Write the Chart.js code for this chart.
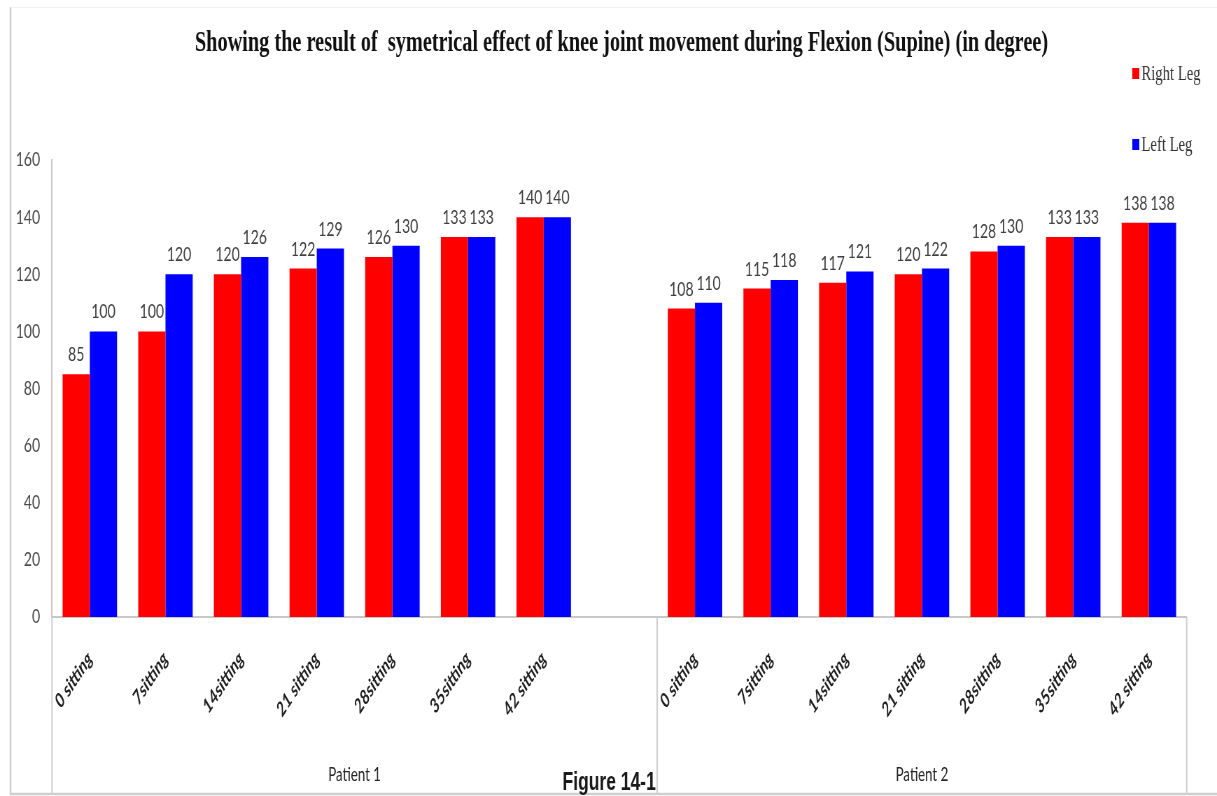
<!DOCTYPE html>
<html>
<head>
<meta charset="utf-8">
<script src="https://cdn.jsdelivr.net/npm/chart.js@4.4.1/dist/chart.umd.min.js"></script>
<style>
  html, body { margin: 0; padding: 0; background: #fff; overflow: hidden; }
  #stage { position: absolute; left: 0; top: 0; width: 1217px; height: 796px; overflow: hidden; background: #fff; }
  /* the drawing is laid out on a wider canvas and narrowed to the page width */
  #chart { position: absolute; left: 0; top: 0; transform: scaleX(0.69983); transform-origin: 0 0; }
</style>
</head>
<body>
<div id="stage"><canvas id="chart" width="1739" height="796"></canvas></div>
<script>
// ---- data ----
const chartTitle = 'Showing the result of  symetrical effect of knee joint movement during Flexion (Supine) (in degree)';
const figureCaption = 'Figure 14-1';

const categories = [
  '0 sitting', '7sitting', '14sitting', '21 sitting', '28sitting', '35sitting', '42 sitting', '',
  '0 sitting', '7sitting', '14sitting', '21 sitting', '28sitting', '35sitting', '42 sitting'
];
const patientGroups = ['Patient 1', 'Patient 2'];
const groupSpans = [8, 7];

const seriesNames = ['Right Leg', 'Left Leg'];
const seriesColors = ['#ff0000', '#0000ff'];
const rightLeg = [85, 100, 120, 122, 126, 133, 140, null, 108, 115, 117, 120, 128, 133, 138];
const leftLeg  = [100, 120, 126, 129, 130, 133, 140, null, 110, 118, 121, 122, 130, 133, 138];

const yMin = 0, yMax = 160, yStep = 20;

// ---- extra drawing: title, legend, value labels, patient group boxes, frame ----
const decor = {
  id: 'decor',
  beforeDraw(chart) {
    const { ctx, width, height } = chart;
    ctx.save();
    ctx.fillStyle = '#ffffff';
    ctx.fillRect(0, 0, width, height);
    // outer frame
    ctx.strokeStyle = '#cfcfcf';
    ctx.lineWidth = 2.5;
    ctx.beginPath();
    ctx.moveTo(15, 7); ctx.lineTo(15, 794); ctx.lineTo(width, 794);
    ctx.stroke();
    ctx.strokeStyle = '#f0f0f0';
    ctx.lineWidth = 1;
    ctx.beginPath();
    ctx.moveTo(15, 7.5); ctx.lineTo(width, 7.5);
    ctx.stroke();
    ctx.restore();
  },
  afterDraw(chart) {
    const { ctx, chartArea, scales } = chart;
    const x = scales.x;
    ctx.save();

    // title
    ctx.fillStyle = '#111111';
    ctx.font = 'bold 29px "Liberation Serif", "DejaVu Serif", serif';
    ctx.textAlign = 'center';
    ctx.textBaseline = 'alphabetic';
    ctx.fillText(chartTitle, (chartArea.left + chartArea.right) / 2 + 3, 51);

    // legend (stacked vertically, top right)
    ctx.font = '21px "Liberation Serif", "DejaVu Serif", serif';
    ctx.textAlign = 'left';
    chart.data.datasets.forEach((ds, i) => {
      const cy = 73 + i * 71;
      ctx.fillStyle = ds.backgroundColor;
      ctx.fillRect(1618, cy - 5, 10, 11);
      ctx.fillStyle = '#333333';
      ctx.textBaseline = 'middle';
      ctx.fillText(ds.label, 1631, cy + 1);
    });

    // value labels above the bars
    ctx.font = '20px Lato, "Open Sans", sans-serif';
    ctx.fillStyle = '#404040';
    ctx.textAlign = 'center';
    ctx.textBaseline = 'alphabetic';
    chart.data.datasets.forEach((ds, i) => {
      const meta = chart.getDatasetMeta(i);
      meta.data.forEach((bar, j) => {
        const v = ds.data[j];
        if (v === null || v === undefined) return;
        ctx.fillText(String(v), bar.x, bar.y - 13);
      });
    });

    // patient group boxes under the category labels
    const n = chart.data.labels.length;
    const cat = (x.right - x.left) / n;
    const boxBottom = 794;
    ctx.strokeStyle = '#cfcfcf';
    ctx.lineWidth = 2;
    let start = 0;
    const edges = [x.left];
    patientGroups.forEach((g, gi) => {
      const end = start + groupSpans[gi];
      edges.push(x.left + end * cat);
      ctx.fillStyle = '#262626';
      ctx.font = '19px Lato, "Open Sans", sans-serif';
      ctx.textAlign = 'center';
      ctx.fillText(g, x.left + (start + end) / 2 * cat, 781);
      start = end;
    });
    ctx.beginPath();
    edges.forEach(ex => { ctx.moveTo(ex, chartArea.bottom); ctx.lineTo(ex, boxBottom); });
    ctx.stroke();

    // figure caption next to the group divider
    ctx.fillStyle = '#1a1a1a';
    ctx.font = 'bold 25px "Liberation Sans", Arial, sans-serif';
    ctx.textAlign = 'right';
    ctx.fillText(figureCaption, edges[1] - 2, 790);

    ctx.restore();
  }
};

new Chart(document.getElementById('chart'), {
  type: 'bar',
  data: {
    labels: categories,
    datasets: [
      { label: seriesNames[0], data: rightLeg, backgroundColor: seriesColors[0] },
      { label: seriesNames[1], data: leftLeg, backgroundColor: seriesColors[1] }
    ]
  },
  options: {
    responsive: false,
    animation: false,
    devicePixelRatio: 1,
    layout: { padding: { left: 0, right: 43.3, top: 160, bottom: 9 } },
    datasets: { bar: { categoryPercentage: 0.72, barPercentage: 1.0 } },
    plugins: { legend: { display: false }, title: { display: false }, tooltip: { enabled: false } },
    scales: {
      x: {
        grid: { display: false, drawTicks: false },
        border: { display: true, color: '#c8c8c8', width: 2 },
        ticks: {
          autoSkip: false,
          minRotation: 47,
          maxRotation: 47,
          padding: 30,
          color: '#1f1f1f',
          font: { family: 'Lato, "Open Sans", sans-serif', size: 20, weight: 'bold', style: 'italic' }
        },
        afterFit(scale) { scale.height = 170; }
      },
      y: {
        min: yMin,
        max: yMax,
        grid: { display: false, drawTicks: false },
        border: { display: true, color: '#c8c8c8', width: 2 },
        ticks: {
          stepSize: yStep,
          padding: 17,
          color: '#4a4a4a',
          font: { family: 'Lato, "Open Sans", sans-serif', size: 20 }
        },
        afterFit(scale) { scale.width = 74.3; }
      }
    }
  },
  plugins: [decor]
});
</script>
</body>
</html>
